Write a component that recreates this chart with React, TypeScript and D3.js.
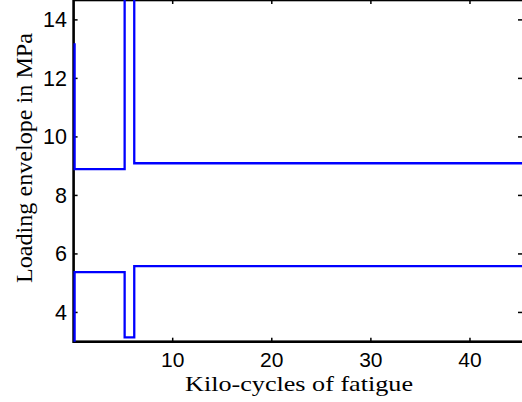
import React, { useEffect, useRef } from 'react'
import * as d3 from 'd3'

// step vertices of the two loading envelopes
const cycles = [0, 0, 5.05, 5.05, 6.02, 6.02, 46]
const upperEnvelope = [13.2, 8.9, 8.9, 16, 16, 9.1, 9.1]
const lowerEnvelope = [2.9, 5.38, 5.38, 3.15, 3.15, 5.58, 5.58]

const xTicks = [10, 20, 30, 40]
const yTicks = [4, 6, 8, 10, 12, 14]

const App: React.FC = () => {
  const svgRef = useRef<SVGSVGElement>(null)

  useEffect(() => {
    if (!svgRef.current) return

    const width = 522
    const height = 402
    const left = 73.6
    const bottom = 341.7

    const x = d3.scaleLinear().domain([0, 45.25]).range([left, width])
    const y = d3.scaleLinear().domain([3, 14.68]).range([bottom, 0])

    const svg = d3.select(svgRef.current)
    svg.selectAll('*').remove()
    svg.attr('width', width).attr('height', height)

    svg.append('rect').attr('width', width).attr('height', height).attr('fill', '#fff')

    // inward ticks on all four sides
    const tickLen = 4
    const ticks = svg.append('g').attr('stroke', '#000').attr('stroke-width', 1.5)
    xTicks.forEach((t) => {
      ticks.append('line').attr('x1', x(t)).attr('x2', x(t)).attr('y1', bottom).attr('y2', bottom - tickLen)
      ticks.append('line').attr('x1', x(t)).attr('x2', x(t)).attr('y1', 0).attr('y2', tickLen)
    })
    yTicks.forEach((t) => {
      ticks.append('line').attr('x1', left).attr('x2', left + tickLen).attr('y1', y(t)).attr('y2', y(t))
      ticks.append('line').attr('x1', width).attr('x2', width - tickLen).attr('y1', y(t)).attr('y2', y(t))
    })

    // axes box
    svg
      .append('rect')
      .attr('x', left)
      .attr('y', 0)
      .attr('width', width - left + 2)
      .attr('height', bottom)
      .attr('fill', 'none')
      .attr('stroke', '#000')
      .attr('stroke-width', 2.6)

    svg
      .append('clipPath')
      .attr('id', 'plot-clip')
      .append('rect')
      .attr('x', left - 2)
      .attr('y', 0)
      .attr('width', width - left + 2)
      .attr('height', bottom)

    const line = d3
      .line<number>()
      .x((_, i) => x(cycles[i]))
      .y((d) => y(d))

    const plot = svg.append('g').attr('clip-path', 'url(#plot-clip)')
    ;[upperEnvelope, lowerEnvelope].forEach((s) => {
      plot
        .append('path')
        .attr('d', line(s))
        .attr('fill', 'none')
        .attr('stroke', '#0000ff')
        .attr('stroke-width', 2.3)
        .attr('transform', 'translate(1,0)')
    })

    const tickFont = "'Liberation Sans', Arial, sans-serif"
    svg
      .append('g')
      .selectAll('text')
      .data(xTicks)
      .join('text')
      .attr('x', (d) => x(d))
      .attr('y', 367)
      .attr('text-anchor', 'middle')
      .attr('font-family', tickFont)
      .attr('font-size', 21)
      .text((d) => d)

    svg
      .append('g')
      .selectAll('text')
      .data(yTicks)
      .join('text')
      .attr('x', 67)
      .attr('y', (d) => y(d) + 7.5)
      .attr('text-anchor', 'end')
      .attr('font-family', tickFont)
      .attr('font-size', 21.5)
      .text((d) => d)

    svg
      .append('text')
      .attr('x', 299)
      .attr('y', 391)
      .attr('text-anchor', 'middle')
      .attr('font-family', "'Liberation Serif', serif")
      .attr('font-size', 21.5)
      .attr('textLength', 228)
      .attr('lengthAdjust', 'spacingAndGlyphs')
      .text('Kilo-cycles of fatigue')

    svg
      .append('text')
      .attr('transform', 'translate(32,158) rotate(-90)')
      .attr('text-anchor', 'middle')
      .attr('font-family', "'Liberation Serif', serif")
      .attr('font-size', 23.5)
      .attr('textLength', 250)
      .attr('lengthAdjust', 'spacingAndGlyphs')
      .text('Loading envelope in MPa')
  }, [])

  return (
    <div>
      <svg ref={svgRef} style={{ position: 'absolute', left: 0, top: 0, display: 'block' }}></svg>
    </div>
  )
}

export default App
